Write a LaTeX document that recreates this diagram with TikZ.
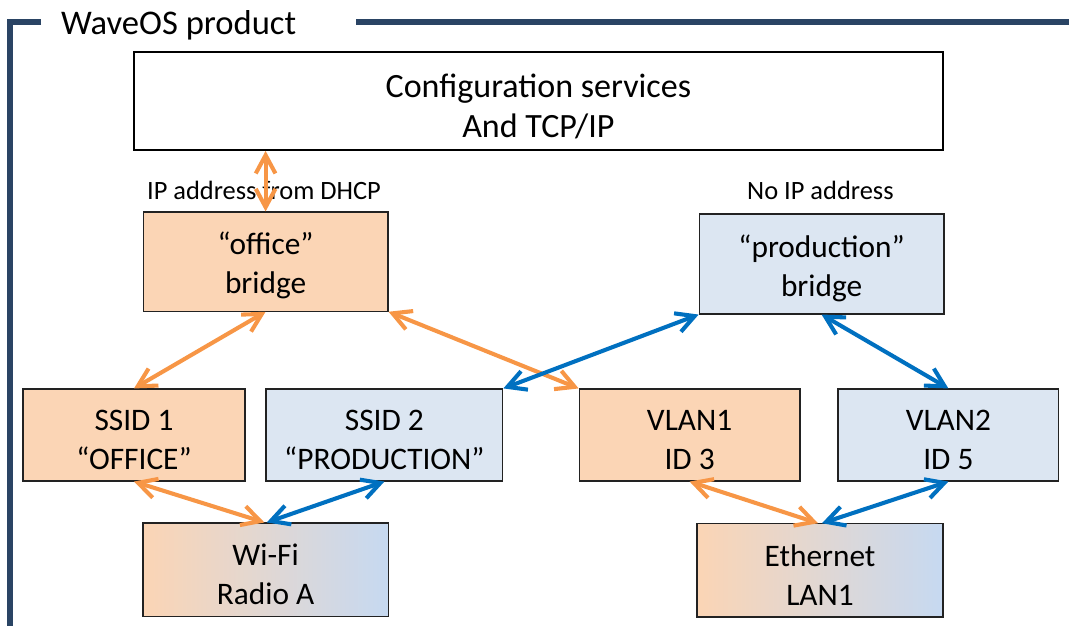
\documentclass[tikz,border=0pt]{standalone}
\usepackage{fontspec}
\setmainfont{Carlito}
\usetikzlibrary{arrows.meta,positioning,calc}
\definecolor{waveFrame}{HTML}{2A4464}
\definecolor{wavePeach}{HTML}{FBD5B5}
\definecolor{waveSky}{HTML}{DCE6F2}
\definecolor{waveSkyDeep}{HTML}{C6D9F1}
\definecolor{waveOrange}{HTML}{F79646}
\definecolor{waveBlue}{HTML}{0070C0}
\definecolor{waveInk}{HTML}{222222}
% first-line strut, so text sits as in the slide boxes
\newcommand{\boxtop}{\rule{0pt}{22.1pt}}
\newcommand{\cfgtop}{\rule{0pt}{24.5pt}}

\begin{document}
\begin{tikzpicture}[x=1cm,y=1cm,
  box/.style={draw=waveInk,line width=0.8pt,fill=#1,align=center,inner sep=0pt,minimum height=2.3cm,
    font=\fontsize{22.3}{27.7}\selectfont},
  port/.style={draw=waveInk,line width=0.8pt,left color=wavePeach,right color=waveSkyDeep,align=center,inner sep=0pt,
    minimum width=6.13cm,minimum height=2.33cm,font=\fontsize{22.3}{27.7}\selectfont},
  link/.style={draw=#1,line width=2.9pt,{Straight Barb[length=13pt,width=14pt]}-{Straight Barb[length=13pt,width=14pt]}},
  note/.style={font=\fontsize{18.8}{22}\selectfont}
]
  \useasboundingbox (0,0) rectangle (26.725,15.65);

  % product frame, open at the title
  \draw[draw=waveFrame,line width=4.3pt] (1.025,15.1) -- (0.25,15.1) -- (0.25,-0.1);
  \draw[draw=waveFrame,line width=4.3pt] (8.9,15.1) -- (26.8,15.1);
  \node[anchor=base west,inner sep=0pt,font=\fontsize{24.6}{28}\selectfont] (title) at (1.52,14.775) {WaveOS product};

  \node[draw=black,line width=1pt,fill=white,align=center,inner sep=0pt,minimum width=20.22cm,minimum height=2.45cm,
    font=\fontsize{24.2}{28.4}\selectfont] (config) at (13.46,13.12)
    {\cfgtop Configuration services\\And TCP/IP};

  \node[note] (dhcp) at (6.6,10.9) {IP address from DHCP};
  \node[note] (noip) at (20.51,10.9) {No IP address};

  \node[box=wavePeach,minimum width=6.12cm,minimum height=2.48cm] (office) at (6.64,9.11) {\boxtop “office”\\bridge};
  \node[box=waveSky,minimum width=6.12cm,minimum height=2.5cm] (prod) at (20.54,9.05) {\boxtop “production”\\bridge};

  \node[box=wavePeach,minimum width=5.55cm] (ssid1) at (3.35,4.775) {\boxtop SSID 1\\“OFFICE”};
  \node[box=waveSky,minimum width=5.92cm] (ssid2) at (9.61,4.775) {\boxtop SSID 2\\“PRODUCTION”};
  \node[box=wavePeach,minimum width=5.52cm] (vlan1) at (17.24,4.775) {\boxtop VLAN1\\ID 3};
  \node[box=waveSky,minimum width=5.52cm] (vlan2) at (23.71,4.775) {\boxtop VLAN2\\ID 5};

  \node[port] (wifi) at (6.64,1.41) {\boxtop Wi-Fi\\Radio A};
  \node[port,minimum width=6.15cm] (eth) at (20.5,1.39) {\boxtop Ethernet\\LAN1};

  \draw[link=waveOrange] (office.north) -- (office.north |- config.south);
  \draw[link=waveOrange] (office.south) -- (ssid1.north);
  \draw[link=waveOrange] (office.south east) -- (vlan1.north west);
  \draw[link=waveBlue] (prod.south west) -- (ssid2.north east);
  \draw[link=waveBlue] (prod.south) -- (vlan2.north);

  \draw[link=waveOrange] (ssid1.south) -- ($(wifi.north)+(-0.03,0)$);
  \draw[link=waveBlue] (ssid2.south) -- ($(wifi.north)+(0.03,0)$);
  \draw[link=waveOrange] (vlan1.south) -- ($(eth.north)+(-0.05,0)$);
  \draw[link=waveBlue] (vlan2.south) -- ($(eth.north)+(0.05,0)$);
\end{tikzpicture}
\end{document}
